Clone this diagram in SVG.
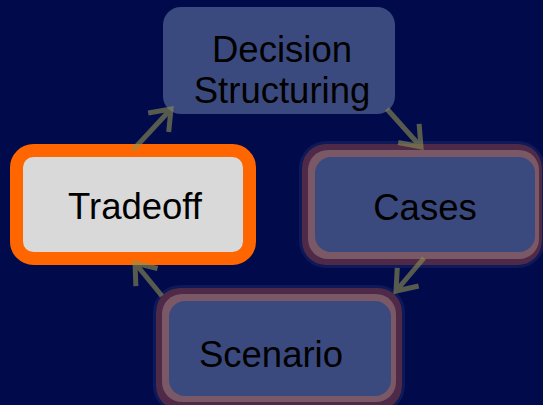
<svg xmlns="http://www.w3.org/2000/svg" width="543" height="405" viewBox="0 0 543 405">
  <style>
    .label { font-family: "Liberation Sans", Arial, sans-serif; font-size: 36.5px; fill: #000000; text-anchor: middle; }
    .box { fill: #3b4a7e; }
    .ring-outer { fill: #4e2a48; }
    .ring-inner { fill: #7a5866; }
    .glow { fill: none; stroke: #1f2a6a; stroke-width: 3; opacity: 0.45; }
    .arrow { fill: none; stroke: #8f9150; stroke-width: 5; stroke-linecap: butt; }
  </style>
  <defs>
    <marker id="chevron" viewBox="-5 -4 6 8" refX="0" refY="0" markerWidth="6" markerHeight="8" orient="auto" markerUnits="strokeWidth">
      <path d="M-3.7,-2.8 L0,0 L-3.7,2.8" fill="none" stroke="#8f9150" stroke-width="1" stroke-linejoin="miter" stroke-linecap="butt"/>
    </marker>
  </defs>

  <rect width="543" height="405" fill="#010b4c"/>

  <g id="node-decision">
    <rect class="box" x="163" y="7" width="232" height="107" rx="18"/>
    <text class="label" x="282" y="62">Decision</text>
    <text class="label" x="282" y="103">Structuring</text>
  </g>

  <g id="node-tradeoff">
    <rect x="16.5" y="150.5" width="233" height="108" rx="17" fill="#d9d9d9" stroke="#ff6600" stroke-width="13"/>
    <text class="label" x="135" y="219">Tradeoff</text>
  </g>

  <g id="node-cases">
    <rect class="glow" x="300.5" y="142.5" width="243" height="124" rx="26"/>
    <rect class="ring-outer" x="302" y="144" width="240" height="121" rx="24"/>
    <rect class="ring-inner" x="308" y="150" width="231" height="109" rx="20"/>
    <rect class="box" x="315" y="157" width="220" height="95" rx="16"/>
    <text class="label" x="425" y="220">Cases</text>
  </g>

  <g id="node-scenario">
    <rect class="glow" x="154.5" y="286.5" width="249" height="125" rx="26"/>
    <rect class="ring-outer" x="156" y="288" width="246" height="122" rx="24"/>
    <rect class="ring-inner" x="162" y="294" width="234" height="108" rx="20"/>
    <rect class="box" x="169" y="301" width="222" height="95" rx="16"/>
    <text class="label" x="271" y="367">Scenario</text>
  </g>

  <g id="connectors">
    <g opacity="0.6">
      <path class="arrow" d="M133,150 L171,109" marker-end="url(#chevron)"/>
    </g>
    <g opacity="0.6">
      <path class="arrow" d="M387,109 L421,147" marker-end="url(#chevron)"/>
    </g>
    <g opacity="0.6">
      <path class="arrow" d="M424,258 L396,291" marker-end="url(#chevron)"/>
    </g>
    <g opacity="0.6">
      <path class="arrow" d="M162,296 L135,263" marker-end="url(#chevron)"/>
    </g>
  </g>
</svg>
